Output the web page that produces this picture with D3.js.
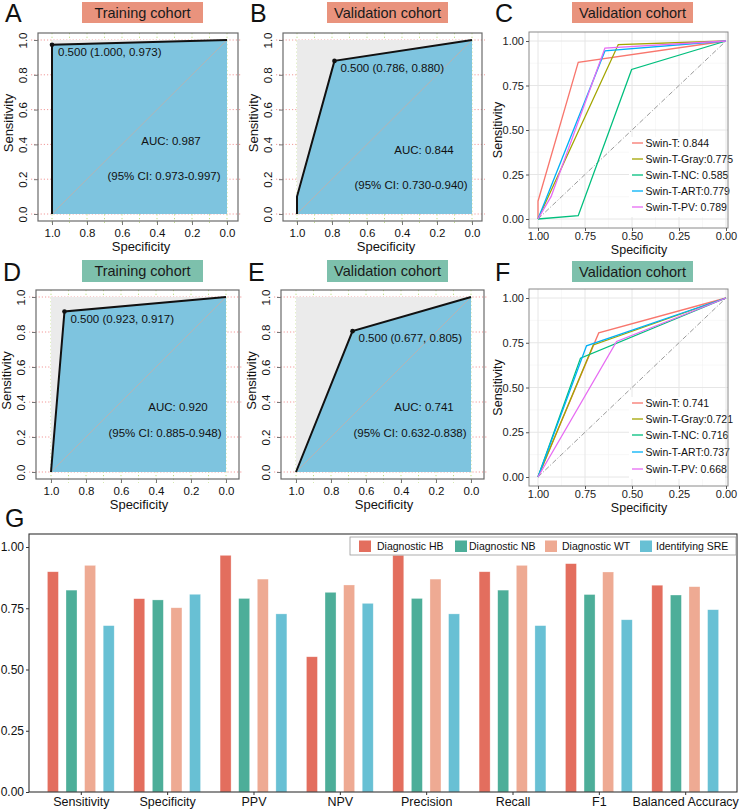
<!DOCTYPE html>
<html>
<head>
<meta charset="utf-8">
<script src="https://cdn.jsdelivr.net/npm/d3@7"></script>
<style>
  body { margin: 0; background: #fff; }
  svg { display: block; font-family: "Liberation Sans", Arial, sans-serif; }
</style>
</head>
<body>
<div id="chart"></div>
<script>
// ---------- data ----------
// panels A, B, D, E (single model ROC)
var rocTitles = ["Training cohort", "Validation cohort", "Training cohort", "Validation cohort"];
var rocSpec = [[1, 1, 0], [1, 1, 0.786, 0], [1, 0.923, 0], [1, 0.677, 0]];
var rocSens = [[0, 0.973, 1], [0, 0.10, 0.880, 1], [0, 0.917, 1], [0, 0.805, 1]];
var cutSpec = [1.000, 0.786, 0.923, 0.677];
var cutSens = [0.973, 0.880, 0.917, 0.805];
var cutLabels = ["0.500 (1.000, 0.973)", "0.500 (0.786, 0.880)", "0.500 (0.923, 0.917)", "0.500 (0.677, 0.805)"];
var aucLabels = ["AUC: 0.987", "AUC: 0.844", "AUC: 0.920", "AUC: 0.741"];
var ciLabels = ["(95% CI: 0.973-0.997)", "(95% CI: 0.730-0.940)", "(95% CI: 0.885-0.948)", "(95% CI: 0.632-0.838)"];

// panels C, F (model comparison)
var models = ["Swin-T", "Swin-T-Gray", "Swin-T-NC", "Swin-T-ART", "Swin-T-PV"];
var legendC = ["Swin-T: 0.844", "Swin-T-Gray:0.775", "Swin-T-NC: 0.585", "Swin-T-ART:0.779", "Swin-T-PV: 0.789"];
var legendF = ["Swin-T: 0.741", "Swin-T-Gray:0.721", "Swin-T-NC: 0.716", "Swin-T-ART:0.737", "Swin-T-PV: 0.668"];
var specC = [[1, 1, 0.786, 0], [1, 0.573, 0], [1, 0.786, 0.502, 0], [1, 0.644, 0], [1, 0.93, 0.644, 0]];
var sensC = [[0, 0.10, 0.88, 1], [0, 0.98, 1], [0, 0.019, 0.84, 1], [0, 0.944, 1], [0, 0.127, 0.96, 1]];
var specF = [[1, 0.677, 0], [1, 0.706, 0], [1, 0.774, 0], [1, 0.742, 0], [1, 0.582, 0]];
var sensF = [[0, 0.805, 1], [0, 0.738, 1], [0, 0.664, 1], [0, 0.733, 1], [0, 0.757, 1]];

// panel G (metrics)
var metrics = ["Sensitivity", "Specificity", "PPV", "NPV", "Precision", "Recall", "F1", "Balanced Accuracy"];
var tasks = ["Diagnostic HB", "Diagnostic NB", "Diagnostic WT", "Identifying SRE"];
var hbVals  = [0.899, 0.789, 0.966, 0.552, 0.966, 0.899, 0.932, 0.844];
var nbVals  = [0.824, 0.784, 0.790, 0.815, 0.790, 0.824, 0.806, 0.804];
var wtVals  = [0.925, 0.752, 0.869, 0.845, 0.869, 0.925, 0.898, 0.838];
var sreVals = [0.679, 0.807, 0.727, 0.770, 0.727, 0.679, 0.703, 0.744];

// ---------- styling ----------
var salmon = "#E9937D", teal = "#7DC0AC";
var modelColors = ["#F8766D", "#A3A500", "#00BF7D", "#00B0F6", "#E76BF3"];
var taskColors = ["#E36E5E", "#4DAE99", "#EEAA93", "#68C0D4"];

var svg = d3.select("#chart").append("svg")
  .attr("width", 740)
  .attr("height", 811);

function panelLetter(t, x, y) {
  svg.append("text").attr("x", x).attr("y", y)
    .attr("font-size", 25).attr("fill", "#111").text(t);
}

function titleBox(t, x0, y0, x1, y1, fill) {
  svg.append("rect").attr("x", x0).attr("y", y0)
    .attr("width", x1 - x0).attr("height", y1 - y0).attr("fill", fill);
  svg.append("text").attr("x", (x0 + x1) / 2).attr("y", (y0 + y1) / 2 + 5)
    .attr("text-anchor", "middle").attr("font-size", 14.5).attr("fill", "#1a1a1a").text(t);
}

// ---------- A, B, D, E : base-R style ROC ----------
var baseLayout = [
  {box: [38, 33, 238, 221], xr: [52, 227], yr: [214, 40], auc: [171, 145], ci: [164, 180], lab: "A", title: [82, 2, 203, 23]},
  {box: [283, 33, 482, 221], xr: [297, 472], yr: [214, 40], auc: [424, 154], ci: [411, 189], lab: "B", title: [327, 2, 448, 23]},
  {box: [36, 290, 239, 479], xr: [51, 226], yr: [472, 297], auc: [178, 411], ci: [165, 437], lab: "D", title: [82, 260, 203, 282]},
  {box: [281, 290, 484, 479], xr: [296, 471], yr: [472, 297], auc: [424, 411], ci: [410, 437], lab: "E", title: [327, 260, 448, 282]}
];

rocTitles.forEach(function(title, i) {
  var L = baseLayout[i];
  var bx0 = L.box[0], by0 = L.box[1], bx1 = L.box[2], by1 = L.box[3];
  var x = d3.scaleLinear().domain([1, 0]).range(L.xr);
  var y = d3.scaleLinear().domain([0, 1]).range(L.yr);
  var g = svg.append("g");

  panelLetter(L.lab, bx0 - 33, L.title[3] - 1);
  titleBox(title, L.title[0], L.title[1], L.title[2], L.title[3], i < 2 ? salmon : teal);

  // dotted grid (mostly hidden by the fills)
  g.selectAll(".hg").data(d3.range(0, 1.01, 0.2)).join("line")
    .attr("x1", bx0 - 7).attr("x2", bx1 + 3)
    .attr("y1", d => y(d)).attr("y2", d => y(d))
    .attr("stroke", "#F29A9A").attr("stroke-width", 1).attr("stroke-dasharray", "1.2,2");
  g.selectAll(".vg").data(d3.range(0, 1.01, 0.1)).join("line")
    .attr("x1", d => x(d)).attr("x2", d => x(d))
    .attr("y1", by0).attr("y2", by1 + 4)
    .attr("stroke", "#BCDD80").attr("stroke-width", 1).attr("stroke-dasharray", "1.2,2.5");

  // gray background of the unit square
  g.append("rect").attr("x", x(1)).attr("y", y(1))
    .attr("width", x(0) - x(1)).attr("height", y(0) - y(1)).attr("fill", "#EBEBEB");

  var pts = rocSpec[i].map((s, k) => [s, rocSens[i][k]]);
  g.append("path").datum(pts)
    .attr("d", d3.area().x(d => x(d[0])).y0(y(0)).y1(d => y(d[1])))
    .attr("fill", "#7EC4DF");

  g.append("line").attr("x1", x(1)).attr("y1", y(0)).attr("x2", x(0)).attr("y2", y(1))
    .attr("stroke", "#B4B4B4").attr("stroke-width", 1);

  g.append("path").datum(pts)
    .attr("d", d3.line().x(d => x(d[0])).y(d => y(d[1])))
    .attr("fill", "none").attr("stroke", "#111").attr("stroke-width", 2);

  g.append("circle").attr("cx", x(cutSpec[i])).attr("cy", y(cutSens[i]))
    .attr("r", 2.3).attr("fill", "#111");

  g.append("text").attr("x", x(cutSpec[i]) + 6).attr("y", y(cutSens[i]) + 11)
    .attr("font-size", 11.5).attr("fill", "#111").text(cutLabels[i]);
  g.append("text").attr("x", L.auc[0]).attr("y", L.auc[1])
    .attr("text-anchor", "middle").attr("font-size", 11.5).attr("fill", "#111").text(aucLabels[i]);
  g.append("text").attr("x", L.ci[0]).attr("y", L.ci[1])
    .attr("text-anchor", "middle").attr("font-size", 11.5).attr("fill", "#111").text(ciLabels[i]);

  // box
  g.append("rect").attr("x", bx0).attr("y", by0)
    .attr("width", bx1 - bx0).attr("height", by1 - by0)
    .attr("fill", "none").attr("stroke", "#6b6b6b").attr("stroke-width", 1.2);

  // x axis
  var xAxis = g.append("g").attr("transform", "translate(0," + by1 + ")")
    .call(d3.axisBottom(x).tickValues([1, 0.8, 0.6, 0.4, 0.2, 0])
      .tickFormat(d3.format(".1f")).tickSize(4).tickPadding(4));
  xAxis.select(".domain").remove();
  xAxis.selectAll("line").attr("stroke", "#777");
  xAxis.selectAll("text").attr("font-size", 11.5).attr("fill", "#111").attr("font-family", null);

  // y axis, rotated labels
  var yAxis = g.append("g").attr("transform", "translate(" + bx0 + ",0)")
    .call(d3.axisLeft(y).tickValues([0, 0.2, 0.4, 0.6, 0.8, 1])
      .tickFormat(d3.format(".1f")).tickSize(4));
  yAxis.select(".domain").remove();
  yAxis.selectAll("line").attr("stroke", "#777");
  yAxis.selectAll("text")
    .attr("transform", "rotate(-90)")
    .attr("x", 0).attr("y", -11).attr("dy", null)
    .attr("text-anchor", "middle")
    .attr("font-size", 11.5).attr("fill", "#111").attr("font-family", null);

  g.append("text").attr("x", 141 + (bx0 - 38)).attr("y", by1 + 30)
    .attr("text-anchor", "middle").attr("font-size", 13).attr("fill", "#111").text("Specificity");
  var sy = (L.yr[0] + L.yr[1]) / 2 - 4;
  g.append("text").attr("transform", "translate(" + (bx0 - 25) + "," + sy + ") rotate(-90)")
    .attr("text-anchor", "middle").attr("font-size", 13).attr("fill", "#111").text("Sensitivity");
});

// ---------- C, F : ggplot style comparison ----------
var ggLayout = [
  {panel: [529, 32, 728, 228], yr: [219, 41], lab: "C", title: [572, 2, 693, 23], fill: salmon,
   spec: specC, sens: sensC, legend: legendC, legY: [147, 163, 179, 195, 211]},
  {panel: [529, 289, 728, 486], yr: [477, 298], lab: "F", title: [572, 261, 693, 282], fill: teal,
   spec: specF, sens: sensF, legend: legendF, legY: [407, 423, 439, 456, 473]}
];

ggLayout.forEach(function(L) {
  var px0 = L.panel[0], py0 = L.panel[1], px1 = L.panel[2], py1 = L.panel[3];
  var x = d3.scaleLinear().domain([1, 0]).range([538, 726]);
  var y = d3.scaleLinear().domain([0, 1]).range(L.yr);
  var g = svg.append("g");

  panelLetter(L.lab, 495, L.title[3] - 1);
  titleBox("Validation cohort", L.title[0], L.title[1], L.title[2], L.title[3], L.fill);

  var minor = [0.125, 0.375, 0.625, 0.875];
  var major = [0, 0.25, 0.5, 0.75, 1];
  g.selectAll(".mnx").data(minor).join("line")
    .attr("x1", d => x(d)).attr("x2", d => x(d)).attr("y1", py0).attr("y2", py1)
    .attr("stroke", "#F3F3F3").attr("stroke-width", 0.6);
  g.selectAll(".mny").data(minor).join("line")
    .attr("y1", d => y(d)).attr("y2", d => y(d)).attr("x1", px0).attr("x2", px1)
    .attr("stroke", "#F3F3F3").attr("stroke-width", 0.6);
  g.selectAll(".mjx").data(major).join("line")
    .attr("x1", d => x(d)).attr("x2", d => x(d)).attr("y1", py0).attr("y2", py1)
    .attr("stroke", "#E6E6E6").attr("stroke-width", 1);
  g.selectAll(".mjy").data(major).join("line")
    .attr("y1", d => y(d)).attr("y2", d => y(d)).attr("x1", px0).attr("x2", px1)
    .attr("stroke", "#E6E6E6").attr("stroke-width", 1);

  g.append("line").attr("x1", x(1)).attr("y1", y(0)).attr("x2", x(0)).attr("y2", y(1))
    .attr("stroke", "#9a9a9a").attr("stroke-width", 1).attr("stroke-dasharray", "5,2,1,2");

  var line = d3.line().x(d => x(d[0])).y(d => y(d[1]));
  models.forEach(function(m, j) {
    var pts = L.spec[j].map((s, k) => [s, L.sens[j][k]]);
    g.append("path").datum(pts).attr("d", line)
      .attr("fill", "none").attr("stroke", modelColors[j]).attr("stroke-width", 1.3);
  });

  // legend inside panel
  g.append("rect").attr("x", 629).attr("y", L.legY[0] - 10)
    .attr("width", 96).attr("height", L.legY[4] - L.legY[0] + 16).attr("fill", "#fff");
  L.legend.forEach(function(t, j) {
    g.append("line").attr("x1", 632).attr("x2", 643)
      .attr("y1", L.legY[j] - 4).attr("y2", L.legY[j] - 4)
      .attr("stroke", modelColors[j]).attr("stroke-width", 1.3);
    g.append("text").attr("x", 645.5).attr("y", L.legY[j])
      .attr("font-size", 10.5).attr("fill", "#111").text(t);
  });

  g.append("rect").attr("x", px0).attr("y", py0)
    .attr("width", px1 - px0).attr("height", py1 - py0)
    .attr("fill", "none").attr("stroke", "#8a8a8a").attr("stroke-width", 1);

  var xAxis = g.append("g").attr("transform", "translate(0," + py1 + ")")
    .call(d3.axisBottom(x).tickValues(major).tickFormat(d3.format(".2f")).tickSize(3).tickPadding(1));
  xAxis.select(".domain").remove();
  xAxis.selectAll("line").attr("stroke", "#555");
  xAxis.selectAll("text").attr("font-size", 11).attr("fill", "#222").attr("font-family", null);

  var yAxis = g.append("g").attr("transform", "translate(" + px0 + ",0)")
    .call(d3.axisLeft(y).tickValues(major).tickFormat(d3.format(".2f")).tickSize(3).tickPadding(2));
  yAxis.select(".domain").remove();
  yAxis.selectAll("line").attr("stroke", "#555");
  yAxis.selectAll("text").attr("font-size", 11).attr("fill", "#222").attr("font-family", null);

  g.append("text").attr("x", 639).attr("y", py1 + 25.5)
    .attr("text-anchor", "middle").attr("font-size", 12.5).attr("fill", "#111").text("Specificity");
  g.append("text").attr("transform", "translate(502," + ((L.yr[0] + L.yr[1]) / 2) + ") rotate(-90)")
    .attr("text-anchor", "middle").attr("font-size", 12.5).attr("fill", "#111").text("Sensitivity");
});

// ---------- G : grouped bars ----------
(function() {
  var px0 = 29, py0 = 534, px1 = 737, py1 = 792;
  var series = [hbVals, nbVals, wtVals, sreVals];
  var x = d3.scalePoint().domain(metrics).range([px0, px1]).padding(0.6);
  var inner = d3.scaleBand().domain(tasks).range([-37.2, 37.2]);
  var y = d3.scaleLinear().domain([0, 1]).range([py1, 547]);
  var g = svg.append("g");

  panelLetter("G", 5, 527);

  tasks.forEach(function(t, j) {
    g.selectAll(".bar" + j).data(series[j]).join("rect")
      .attr("x", (d, k) => x(metrics[k]) + inner(t) + inner.bandwidth() / 2 - 5.5)
      .attr("y", d => y(d))
      .attr("width", 11)
      .attr("height", d => y(0) - y(d))
      .attr("fill", taskColors[j])
      .attr("stroke", "#fff").attr("stroke-opacity", 0.5).attr("stroke-width", 0.6);
  });

  g.append("rect").attr("x", px0).attr("y", py0)
    .attr("width", px1 - px0).attr("height", py1 - py0)
    .attr("fill", "none").attr("stroke", "#333").attr("stroke-width", 1.1);

  var yAxis = g.append("g").attr("transform", "translate(" + px0 + ",0)")
    .call(d3.axisLeft(y).tickValues([0, 0.25, 0.5, 0.75, 1]).tickFormat(d3.format(".2f")).tickSize(3).tickPadding(2));
  yAxis.select(".domain").remove();
  yAxis.selectAll("line").attr("stroke", "#333");
  yAxis.selectAll("text").attr("font-size", 12).attr("fill", "#111").attr("font-family", null);

  var xAxis = g.append("g").attr("transform", "translate(0," + py1 + ")")
    .call(d3.axisBottom(x).tickSize(3).tickPadding(2));
  xAxis.select(".domain").remove();
  xAxis.selectAll("line").attr("stroke", "#333");
  xAxis.selectAll("text").attr("font-size", 12.5).attr("fill", "#111").attr("font-family", null);

  // legend
  var keyX = [359, 455, 545, 640];
  var textX = [377, 469, 562, 656];
  g.append("rect").attr("x", 350).attr("y", 537).attr("width", 386).attr("height", 18)
    .attr("fill", "#fff").attr("stroke", "#999").attr("stroke-width", 0.8);
  tasks.forEach(function(t, j) {
    g.append("rect").attr("x", keyX[j]).attr("y", 540.5).attr("width", 12).attr("height", 11.5)
      .attr("fill", taskColors[j]);
    g.append("text").attr("x", textX[j]).attr("y", 550)
      .attr("font-size", 10.5).attr("fill", "#111").text(t);
  });
})();
</script>
</body>
</html>
